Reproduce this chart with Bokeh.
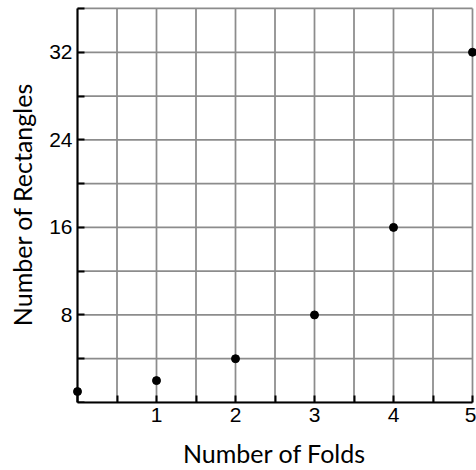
from bokeh.plotting import figure
from bokeh.models import Range1d, FixedTicker, LinearAxis
from bokeh.embed import file_html
from bokeh.resources import INLINE

# Data
folds = [0, 1, 2, 3, 4, 5]
rectangles = [1, 2, 4, 8, 16, 32]

x_ticks = [0, 0.5, 1, 1.5, 2, 2.5, 3, 3.5, 4, 4.5, 5]
x_labeled = [1, 2, 3, 4, 5]
y_ticks = [0, 4, 8, 12, 16, 20, 24, 28, 32, 36]
y_labeled = [8, 16, 24, 32]

x_min, x_max = 0, 5
y_min, y_max = 0, 36

# small padding (in data units) so markers on the edges are not clipped
x_pad_left = 5 / 79
x_pad_right = 4 / 79
y_pad_top = 2 / 11

p = figure(width=476, height=470, output_backend="svg", toolbar_location=None,
           x_range=Range1d(x_min - x_pad_left, x_max + x_pad_right),
           y_range=Range1d(y_min, y_max + y_pad_top),
           min_border_left=72, min_border_right=0, min_border_top=6, min_border_bottom=66)
p.outline_line_color = None
p.background_fill_color = "white"
p.border_fill_color = "white"
p.xgrid.visible = False
p.ygrid.visible = False

# grid lines
p.segment(x0=x_ticks, y0=[y_min] * len(x_ticks), x1=x_ticks, y1=[y_max] * len(x_ticks),
          line_color="#8c8c8c", line_width=1.75)
p.segment(x0=[x_min] * len(y_ticks), y0=y_ticks, x1=[x_max] * len(y_ticks), y1=y_ticks,
          line_color="#8c8c8c", line_width=1.75)

# x axis
xa = p.xaxis[0]
xa.ticker = FixedTicker(ticks=x_ticks)
xa.major_label_overrides = {t: (str(int(t)) if t in x_labeled else "") for t in x_ticks}
xa.bounds = (x_min, x_max)
xa.axis_line_width = 2
xa.axis_line_color = "black"
xa.major_tick_line_width = 2
xa.major_tick_line_color = "black"
xa.major_tick_in = 7
xa.major_tick_out = 0
xa.minor_tick_line_color = None
xa.major_label_text_font = "Liberation Sans"
xa.major_label_text_font_size = "21px"
xa.major_label_text_color = "black"
xa.major_label_standoff = 5
xa.axis_label = "Number of Folds"
xa.axis_label_text_font = "Lato"
xa.axis_label_text_font_size = "25px"
xa.axis_label_text_font_style = "normal"
xa.axis_label_text_color = "black"
xa.axis_label_standoff = 13

# y axis: labels (in the left panel)
ya = p.yaxis[0]
ya.ticker = FixedTicker(ticks=y_ticks)
ya.major_label_overrides = {t: (str(t) if t in y_labeled else "") for t in y_ticks}
ya.axis_line_color = None
ya.major_tick_line_color = None
ya.minor_tick_line_color = None
ya.major_tick_in = 0
ya.major_tick_out = 0
ya.major_label_text_font = "Liberation Sans"
ya.major_label_text_font_size = "21px"
ya.major_label_text_color = "black"
ya.major_label_standoff = 0
ya.axis_label = "Number of Rectangles"
ya.axis_label_text_font = "Lato"
ya.axis_label_text_font_size = "25px"
ya.axis_label_text_font_style = "normal"
ya.axis_label_text_color = "black"
ya.axis_label_standoff = 9

# y axis: line and ticks at x = 0
ya_line = LinearAxis(ticker=FixedTicker(ticks=y_ticks), fixed_location=x_min,
                     bounds=(y_min, y_max),
                     major_label_overrides={t: "" for t in y_ticks},
                     major_label_standoff=0,
                     axis_line_width=2, axis_line_color="black",
                     major_tick_line_width=2, major_tick_line_color="black",
                     major_tick_in=7, major_tick_out=0,
                     minor_tick_line_color=None)
p.add_layout(ya_line, "left")

p.scatter(folds, rectangles, size=8, color="black")

open("out.html", "w").write(file_html(p, INLINE))
